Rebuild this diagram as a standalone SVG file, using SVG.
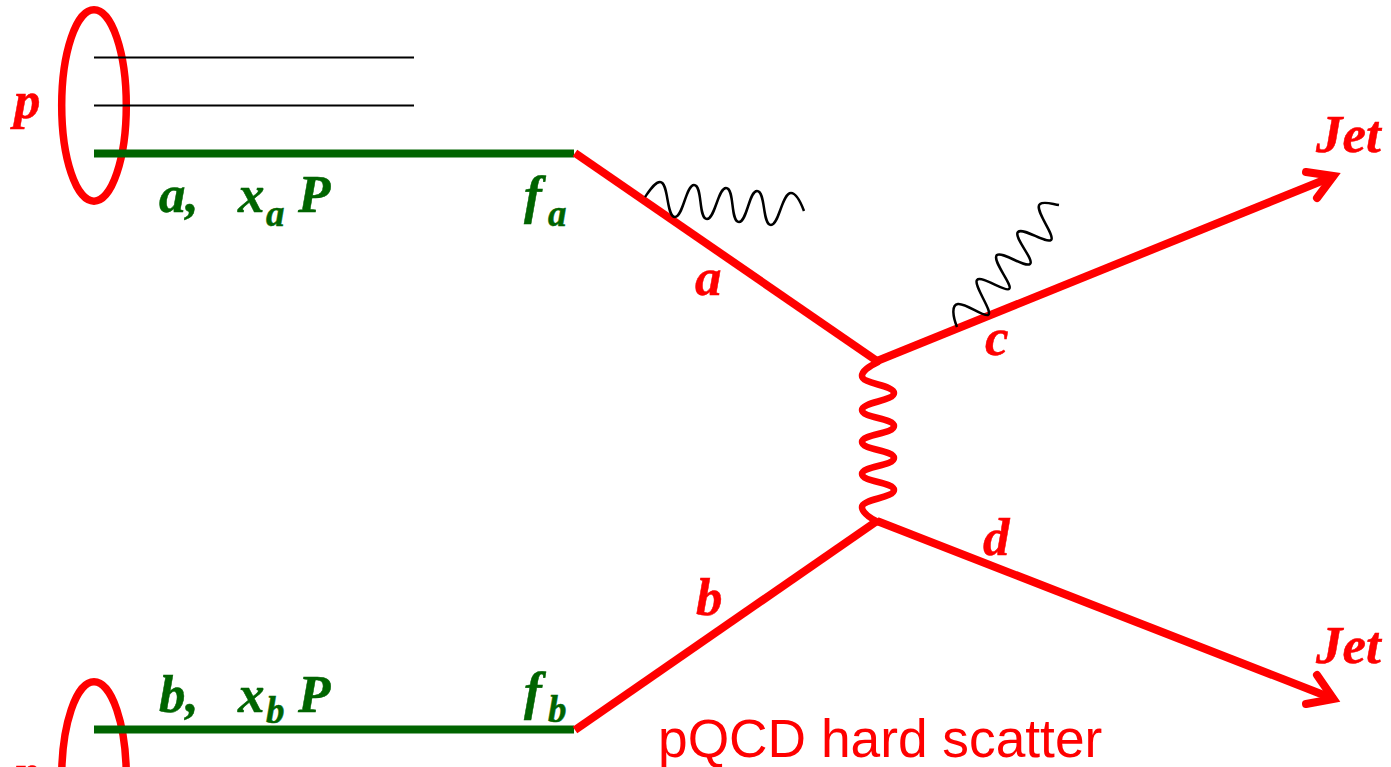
<svg xmlns="http://www.w3.org/2000/svg" width="1391" height="767" viewBox="0 0 1391 767">
<style>
text{font-family:"Liberation Serif","Times New Roman",serif;font-style:italic;font-weight:bold;font-size:53px;stroke-width:.5}
.r{fill:#ff0000;stroke:#ff0000}
.g{fill:#006400;stroke:#006400}
.s{font-size:37px}
.lbl{font-family:"Liberation Sans",Arial,sans-serif;font-style:normal;font-weight:normal;font-size:53.3px;fill:#ff0000;stroke:none}
.prot{fill:none;stroke:#ff0000;stroke-width:7.5}
.k{fill:none;stroke:#000000;stroke-width:2}
.kw{fill:none;stroke:#000000;stroke-width:2.5}
.gl{stroke:#006400;stroke-width:8;fill:none}
.rl{stroke:#ff0000;stroke-width:8;fill:none}
.rw{stroke:#ff0000;stroke-width:6.5;fill:none;stroke-linecap:round}
.arrow{stroke:#ff0000;stroke-width:8;fill:none;stroke-linecap:round;stroke-linejoin:miter;stroke-miterlimit:10}
</style>
<g id="proton-a">
<ellipse class="prot" cx="94" cy="105.500" rx="32.300" ry="95.700"/>
<text class="r" x="14" y="118">p</text>
</g>
<g id="proton-b">
<ellipse class="prot" cx="94" cy="777.500" rx="32.300" ry="95.700"/>
<text class="r" x="14" y="790">p</text>
</g>
<g id="connectors">
<path class="k" d="M94,57.500H414"/>
<path class="k" d="M94,105.500H414"/>
<path class="gl" d="M94,153.500H574"/>
<path class="gl" d="M94,729.500H574"/>
<path class="rl" d="M575,153L877,361"/>
<path class="rl" d="M575,730L877,521"/>
<path class="rl" d="M877,361L1334,176"/>
<path class="rl" d="M877,521L1334,699"/>
<path class="arrow" d="M1306,172L1333.500,176L1317,198"/>
<path class="arrow" d="M1317,675L1333.500,699L1306,704"/>
<path class="rw" d="M878,362C868,367 862,371 862,376C862,384 894,385 894,393C894,401 862,402 862,410C862,418 894,418 894,426C894,434 862,434 862,442C862,450 894,450 894,458C894,466 862,466 862,474C862,482 894,482 894,490C894,498 862,499 862,507C862,512 868,517 878,522"/>
<path class="kw" d="M645,197C650,190 655,182 660,182C669,182 666,217 675,217C683,217 686,185 694,185C703,185 698,219 707,219C715,219 718,188 726,188C735,188 730,222 739,222C747,222 749,191 757,191C766,191 762,225 771,225C779,225 782,193 791,193C796,193 801,203 804,211"/>
<path class="kw" d="M957,327C953,317 951,305 958,304C966,303 983,317 988,315C994,313 973,285 977,280C981,275 1005,292 1009,289C1014,286 991,260 997,255C1002,251 1025,268 1030,264C1035,260 1013,237 1018,232C1023,227 1046,244 1051,240C1056,236 1033,209 1040,204C1044,201 1052,204 1059,205"/>
</g>
<g id="label-a-xa-P">
<text class="g" x="159" y="212">a,</text>
<text class="g" x="238" y="212">x</text>
<text class="g s" x="266" y="226">a</text>
<text class="g" x="298" y="212">P</text>
</g>
<g id="label-fa">
<text class="g" x="524" y="213">f</text>
<text class="g s" x="548" y="226">a</text>
</g>
<g id="label-b-xb-P">
<text class="g" x="159" y="712">b,</text>
<text class="g" x="238" y="712">x</text>
<text class="g s" x="266" y="723">b</text>
<text class="g" x="298" y="712">P</text>
</g>
<g id="label-fb">
<text class="g" x="524" y="709">f</text>
<text class="g s" x="548" y="722">b</text>
</g>
<g id="parton-labels">
<text class="r" x="695" y="295">a</text>
<text class="r" x="696" y="615">b</text>
<text class="r" x="985" y="355">c</text>
<text class="r" x="983" y="555">d</text>
</g>
<g id="jet-c"><text class="r" x="1316" y="152">Jet</text></g>
<g id="jet-d"><text class="r" x="1316" y="663">Jet</text></g>
<g id="title"><text class="lbl" x="658" y="757">pQCD hard scatter</text></g>
</svg>
